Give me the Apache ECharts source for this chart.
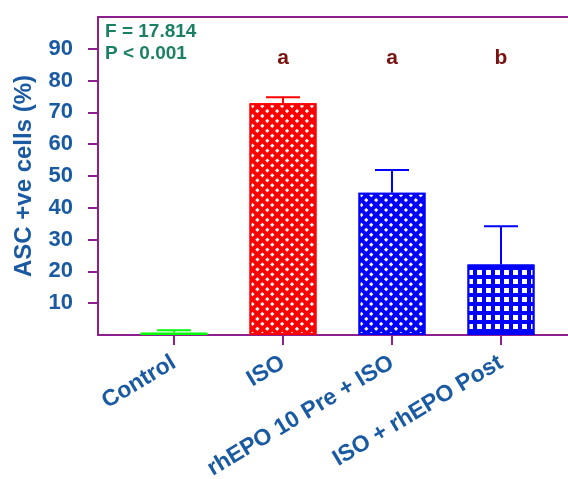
<!DOCTYPE html>
<html><head><meta charset="utf-8">
<script src="https://cdn.jsdelivr.net/npm/echarts@6/dist/echarts.min.js"></script>
<style>html,body{margin:0;padding:0;background:#fff}#c{width:568px;height:479px}</style>
</head><body><div id="c"></div>
<script>
const categories = ['Control', 'ISO', 'rhEPO 10 Pre + ISO', 'ISO + rhEPO Post'];
const means = [0.8, 72.9, 44.7, 22.2];
const errUpper = [1.5, 74.8, 51.9, 34.2];
const letters = ['', 'a', 'a', 'b'];
const yTicks = [10, 20, 30, 40, 50, 60, 70, 80, 90];
const statLines = ['F = 17.814', 'P < 0.001'];

const barColors = ['#00ff00', '#ff0000', '#0000ff', '#0000ff'];
const diamondDecal = {symbol: 'rect', color: '#ffffff', dashArrayX: [2.6, 4], dashArrayY: [2.6, 4], rotation: Math.PI / 4, symbolSize: 1};
const gridDecal = {symbol: 'rect', color: '#ffffff', dashArrayX: [4.5, 3.2], dashArrayY: [4.5, 3.2], rotation: 0, symbolSize: 1};
const decals = [null, diamondDecal, diamondDecal, gridDecal];

const axisColor = '#8e1f8e';
const textBlue = '#1a5aa3';
const font = 'Liberation Sans, Arial, sans-serif';

const chart = echarts.init(document.getElementById('c'), null, {renderer: 'canvas'});
const option = {
  animation: false,
  grid: [
    {left: 98, right: 0, top: 17, bottom: 144, containLabel: false, outerBoundsMode: 'none'},
    {left: 119.5, width: 436, top: 17, bottom: 144, containLabel: false, outerBoundsMode: 'none'}
  ],
  xAxis: [
    {type: 'value', gridIndex: 0, min: 0, max: 1, position: 'bottom',
     axisLine: {show: true, lineStyle: {color: axisColor, width: 2}}, axisTick: {show: false}, axisLabel: {show: false}, splitLine: {show: false}},
    {type: 'value', gridIndex: 0, min: 0, max: 1, position: 'top',
     axisLine: {show: true, lineStyle: {color: axisColor, width: 2}}, axisTick: {show: false}, axisLabel: {show: false}, splitLine: {show: false}},
    {type: 'category', gridIndex: 1, data: categories, boundaryGap: true,
     axisLine: {show: false},
     axisTick: {show: true, alignWithLabel: true, length: 10, lineStyle: {color: axisColor, width: 2}},
     axisLabel: {rotate: 31, margin: 26, color: textBlue, fontFamily: font, fontWeight: 'bold', fontSize: 23, interval: 0}}
  ],
  yAxis: [
    {type: 'value', gridIndex: 0, min: 0, max: 100, interval: 10,
     name: 'ASC +ve cells (%)', nameLocation: 'middle', nameGap: 62,
     nameTextStyle: {color: textBlue, fontFamily: font, fontWeight: 'bold', fontSize: 24},
     axisLine: {show: true, lineStyle: {color: axisColor, width: 2}},
     axisTick: {show: true, length: 10, lineStyle: {color: axisColor, width: 2}, customValues: yTicks},
     axisLabel: {customValues: yTicks, margin: 25, color: textBlue, fontFamily: font, fontWeight: 'bold', fontSize: 22},
     splitLine: {show: false}},
    {type: 'value', gridIndex: 1, min: 0, max: 100, show: false, splitLine: {show: false}}
  ],
  series: [
    {type: 'bar', xAxisIndex: 2, yAxisIndex: 1, barWidth: 67,
     data: means.map((v, i) => ({value: v, itemStyle: {color: barColors[i], borderColor: barColors[i], borderWidth: 2, decal: decals[i] || undefined}}))},
    {type: 'custom', xAxisIndex: 2, yAxisIndex: 1, z: 5,
     data: means.map((v, i) => [i, v, errUpper[i]]),
     renderItem: function (params, api) {
       const i = api.value(0);
       const lo = api.coord([i, api.value(1)]);
       const hi = api.coord([i, api.value(2)]);
       const c = barColors[i];
       return {type: 'group', children: [
         {type: 'line', shape: {x1: lo[0], y1: lo[1], x2: hi[0], y2: hi[1]}, style: {stroke: c, lineWidth: 2}},
         {type: 'line', shape: {x1: hi[0] - 17, y1: hi[1], x2: hi[0] + 17, y2: hi[1]}, style: {stroke: c, lineWidth: 2}}
       ]};
     }},
    {type: 'custom', xAxisIndex: 2, yAxisIndex: 1, z: 6,
     data: letters.map((t, i) => [i, 87]),
     renderItem: function (params, api) {
       const p = api.coord([api.value(0), api.value(1)]);
       return {type: 'text', x: p[0], y: p[1], style: {text: letters[params.dataIndex], fill: '#7a1010', font: 'bold 21px ' + font, align: 'center', verticalAlign: 'middle'}};
     }}
  ],
  graphic: statLines.map((t, i) => ({type: 'text', left: 105, top: 22 + i * 22,
     style: {text: t, fill: '#1b8063', font: 'bold 19px ' + font}}))
};
chart.setOption(option);
</script></body></html>
